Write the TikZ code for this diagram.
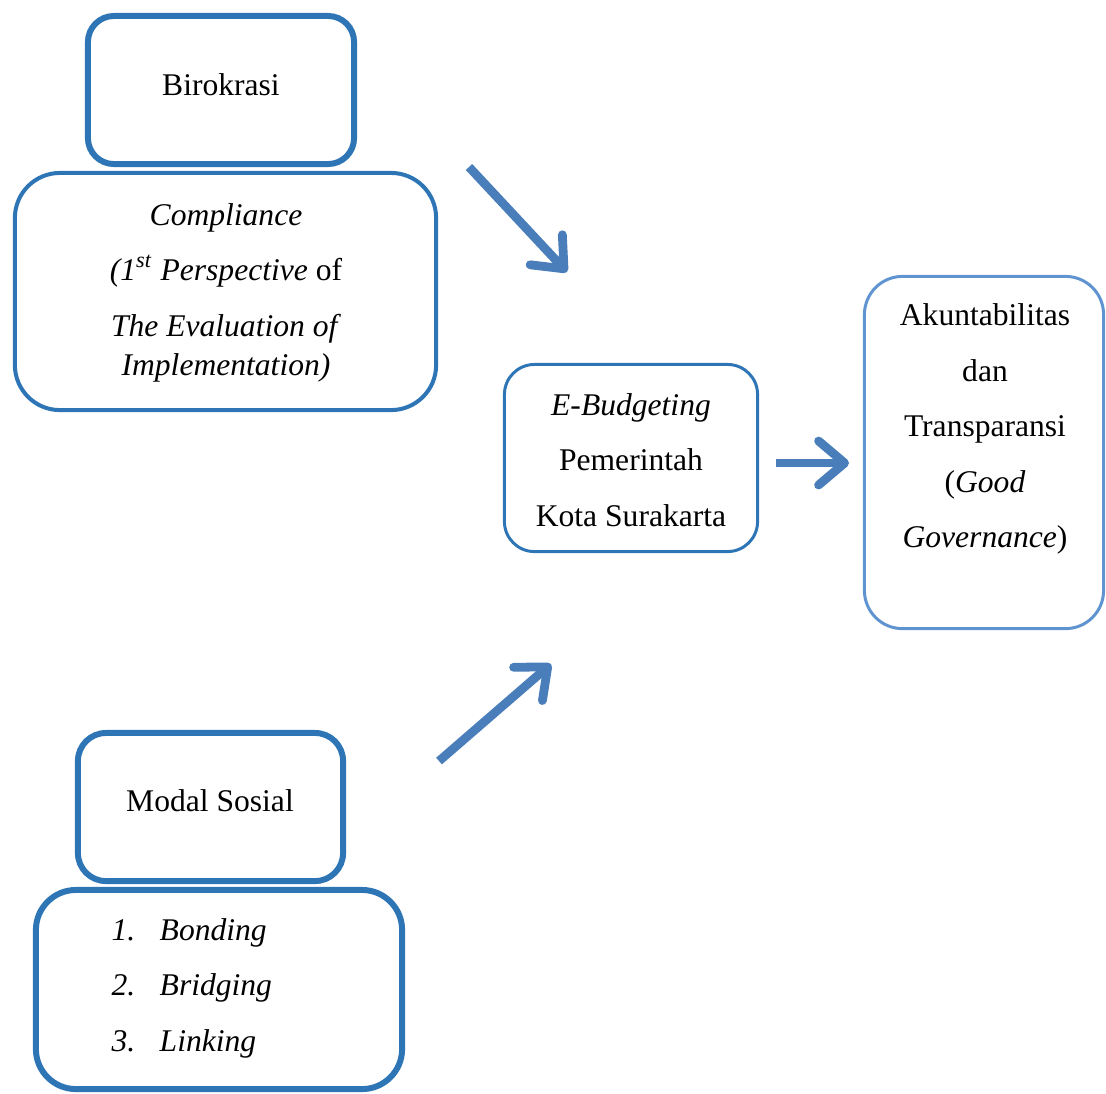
\documentclass[tikz,border=0pt]{standalone}
\usepackage{fontspec}
\setmainfont{Liberation Serif}
\usepackage{xcolor}
\usetikzlibrary{arrows.meta}
\definecolor{boxblue}{RGB}{46,117,182}
\definecolor{lightblue}{RGB}{96,148,208}
\definecolor{arrowblue}{RGB}{74,126,187}
\tikzset{frame/.style={draw=boxblue, inner sep=0pt, line width=#1},
  txt/.style={align=center, inner sep=0pt, font=\fontsize{8.98}{15.8}\selectfont},
  bigarrow/.style={draw=arrowblue, line width=2.5pt, -{Straight Barb[length=2.6mm, width=4.4mm, round]}}}

\begin{document}
\begin{tikzpicture}[x=0.01cm,y=-0.01cm]
   \useasboundingbox (0,0) rectangle (1106,1093);
   \node[frame=1.7pt, rounded corners=0.26cm, minimum width=2.66cm, minimum height=1.48cm] (biro) at (221,90) {};
   \node[frame=1.14pt, rounded corners=0.45cm, minimum width=4.21cm, minimum height=2.37cm] (comp) at (225.5,291.5) {};
   \node[frame=0.85pt, rounded corners=0.3cm, minimum width=2.53cm, minimum height=1.87cm] (ebud) at (631,458) {};
   \node[frame=0.85pt, draw=lightblue, rounded corners=0.38cm, minimum width=2.39cm, minimum height=3.52cm] (akun) at (984,452.5) {};
   \node[frame=1.7pt, rounded corners=0.28cm, minimum width=2.65cm, minimum height=1.48cm] (modal) at (210.5,807) {};
   \node[frame=1.7pt, rounded corners=0.4cm, minimum width=3.66cm, minimum height=1.99cm] (list) at (219,989.5) {};
   \node[txt] (biroT) at (221,85) {Birokrasi};
   \node[txt] (compT) at (226,293) {\textit{Compliance}\\ \textit{(1\textsuperscript{st} Perspective} of\\ \textit{The Evaluation of}\\[-4.6pt] \textit{Implementation)}};
   \node[txt] (ebudT) at (631,460) {\textit{E-Budgeting}\\ Pemerintah\\ Kota Surakarta};
   \node[txt] (akunT) at (985,429) {Akuntabilitas\\ dan\\ Transparansi\\ (\textit{Good}\\ \textit{Governance})};
   \node[txt] (modalT) at (210,801) {Modal Sosial};
   \node[txt, align=left, anchor=west] (listT) at (111,988) {\itshape\makebox[0.48cm][l]{1.}Bonding\\ \itshape\makebox[0.48cm][l]{2.}Bridging\\ \itshape\makebox[0.48cm][l]{3.}Linking};
   \coordinate (a1) at (469,167);
   \coordinate (b1) at (567,272);
   \coordinate (a2) at (776,463);
   \coordinate (b2) at (849,463);
   \coordinate (a3) at (439,761);
   \coordinate (b3) at (551,664);
   \draw[bigarrow] (a1) -- (b1);
   \draw[bigarrow] (a2) -- (b2);
   \draw[bigarrow] (a3) -- (b3);
\end{tikzpicture}
\end{document}
